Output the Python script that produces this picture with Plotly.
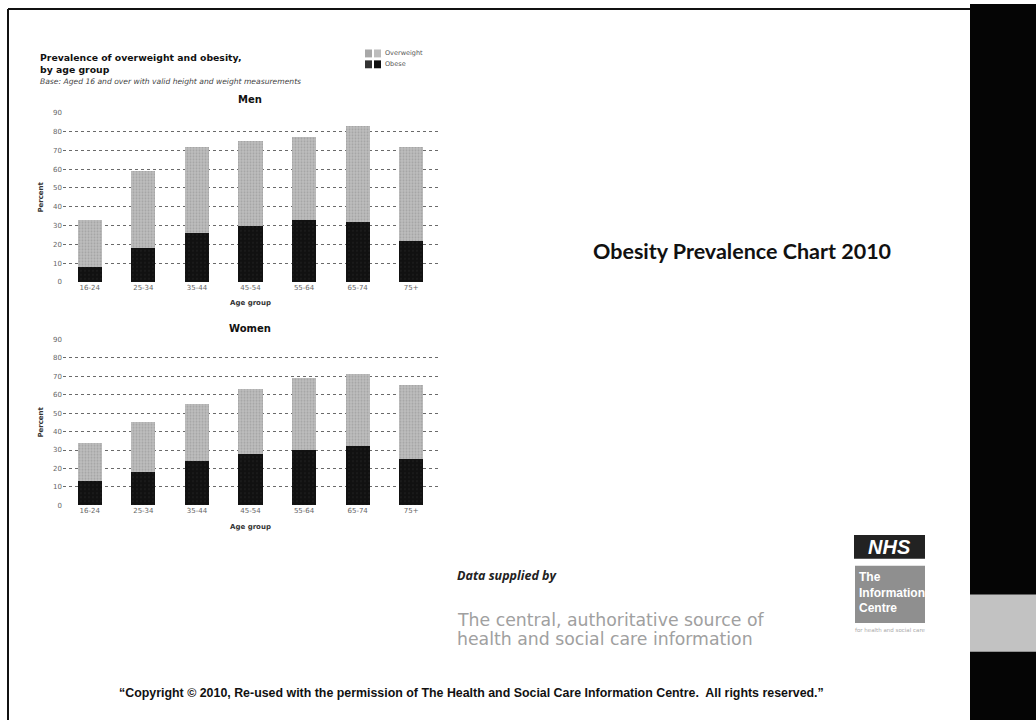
import plotly.graph_objects as go

W, H = 1036, 724

age_groups = ["16-24", "25-34", "35-44", "45-54", "55-64", "65-74", "75+"]
men_obese = [8, 18, 26, 30, 33, 32, 22]
men_overweight = [25, 41, 46, 45, 44, 51, 50]
women_obese = [13, 18, 24, 28, 30, 32, 25]
women_overweight = [21, 27, 31, 35, 39, 39, 40]
y_ticks = [0, 10, 20, 30, 40, 50, 60, 70, 80, 90]
legend_labels = ["Overweight", "Obese"]


def px(x):
    return x / W


def py(y):
    return 1 - y / H


OW_COLOR = "#bdbdbd"
OB_COLOR = "#111111"
ow_pattern = dict(shape=".", fgcolor="#8a8a8a", bgcolor=OW_COLOR, size=3, solidity=0.35)
ob_pattern = dict(shape=".", fgcolor="#3a3a3a", bgcolor=OB_COLOR, size=4, solidity=0.1)

fig = go.Figure()
fig.add_trace(go.Bar(x=age_groups, y=men_obese, name=legend_labels[1], marker=dict(color=OB_COLOR, pattern=ob_pattern, line=dict(width=0)),
                     xaxis="x", yaxis="y"))
fig.add_trace(go.Bar(x=age_groups, y=men_overweight, name=legend_labels[0], marker=dict(color=OW_COLOR, pattern=ow_pattern, line=dict(width=0)),
                     xaxis="x", yaxis="y"))
fig.add_trace(go.Bar(x=age_groups, y=women_obese, name=legend_labels[1], marker=dict(color=OB_COLOR, pattern=ob_pattern, line=dict(width=0)),
                     xaxis="x2", yaxis="y2"))
fig.add_trace(go.Bar(x=age_groups, y=women_overweight, name=legend_labels[0], marker=dict(color=OW_COLOR, pattern=ow_pattern, line=dict(width=0)),
                     xaxis="x2", yaxis="y2"))

tickfont = dict(family="DejaVu Sans", size=7, color="#666666")
axtitle = dict(family="DejaVu Sans", size=7, color="#333333")

xdom = [px(63), px(438)]
ax_common_y = dict(range=[0, 90], tickvals=y_ticks, showgrid=True, gridcolor="#6a6a6a", griddash="dot", gridwidth=1,
                   zeroline=False, showline=False, ticks="", tickfont=tickfont, fixedrange=True,
                   title=dict(text="<b>Percent</b>", font=axtitle, standoff=8))
ax_common_x = dict(domain=xdom, showgrid=False, showline=False, ticks="", tickfont=tickfont,
                   title=dict(text="<b>Age group</b>", font=axtitle, standoff=9))

fig.update_layout(
    width=W, height=H,
    margin=dict(l=0, r=0, t=0, b=0),
    paper_bgcolor="white", plot_bgcolor="white",
    barmode="stack", bargap=0.55,
    showlegend=False,
    xaxis=dict(**ax_common_x, anchor="y"),
    yaxis=dict(**ax_common_y, domain=[py(281), py(110)], anchor="x"),
    xaxis2=dict(**ax_common_x, anchor="y2"),
    yaxis2=dict(**ax_common_y, domain=[py(507), py(339)], anchor="x2"),
)


def rect(x0, y0, x1, y1, fill, layer="above"):
    return dict(type="rect", xref="paper", yref="paper", x0=px(x0), x1=px(x1), y0=py(y1), y1=py(y0),
                fillcolor=fill, line=dict(width=0), layer=layer)


shapes = [
    # page border
    dict(type="line", xref="paper", yref="paper", x0=px(8), x1=px(8), y0=0, y1=py(5), line=dict(color="#111", width=2)),
    dict(type="line", xref="paper", yref="paper", x0=px(8), x1=px(970), y0=py(5), y1=py(5), line=dict(color="#111", width=2)),
    # right black band with grey patch
    rect(970, 0, W, H, "#050505", "below"),
    rect(970, 597, W, 655, "#c2c2c2"),
    # legend swatches
    rect(365, 46, 372, 54, "#a8a8a8"),
    rect(374, 46, 381, 54, OW_COLOR),
    rect(365, 57, 372, 65, "#333333"),
    rect(374, 57, 381, 65, OB_COLOR),
    # NHS logo
    rect(854, 537, 925, 561, "#222222"),
    # Information Centre logo
    rect(855, 568, 925, 626, "#8f8f8f"),
]
fig.update_layout(shapes=shapes)


def ann(x, y, text, size, color="#111", family="DejaVu Sans", xanchor="left", yanchor="middle", align="left"):
    return dict(x=px(x), y=py(y), xref="paper", yref="paper", text=text, showarrow=False,
                font=dict(family=family, size=size, color=color), xanchor=xanchor, yanchor=yanchor, align=align)


anns = [
    ann(38, 54, "<b>Prevalence of overweight and obesity,</b>", 9.3, "#111", "DejaVu Sans"),
    ann(38, 66, "<b>by age group</b>", 9.3, "#111", "DejaVu Sans"),
    ann(38, 78, "<i>Base: Aged 16 and over with valid height and weight measurements</i>", 7.6, "#444", "DejaVu Sans"),
    ann(383, 50, legend_labels[0], 6.5, "#555", "DejaVu Sans"),
    ann(383, 61, legend_labels[1], 6.5, "#555", "DejaVu Sans"),
    ann(250, 97, "<b>Men</b>", 10, "#111", "DejaVu Sans", xanchor="center"),
    ann(250, 328, "<b>Women</b>", 10, "#111", "DejaVu Sans", xanchor="center"),
    ann(742, 250, "<b>Obesity Prevalence Chart 2010</b>", 21.5, "#111", "Lato", xanchor="center"),
    ann(455, 578, "<b><i>Data supplied by</i></b>", 12.5, "#222", "Open Sans"),
    ann(455, 623, "The central, authoritative source of", 17.3, "#a0a0a0", "DejaVu Sans"),
    ann(455, 642, "health and social care information", 17.3, "#a0a0a0", "DejaVu Sans"),
    ann(889, 549, "<b><i>NHS</i></b>", 20, "white", "Liberation Sans", xanchor="center"),
    ann(857, 595, "<b>The<br>Information<br>Centre</b>", 12, "white", "Liberation Sans", yanchor="middle"),
    ann(890, 633, "for health and social care", 5.5, "#aaaaaa", "DejaVu Sans", xanchor="center"),
    ann(471, 697, "<b>\u201cCopyright \u00a9 2010, Re-used with the permission of The Health and Social Care Information Centre.  All rights reserved.\u201d</b>",
        12.4, "#111", "Liberation Sans", xanchor="center"),
]
fig.update_layout(annotations=anns)

fig.write_html("out.html", include_plotlyjs=True, config={"displayModeBar": False})
